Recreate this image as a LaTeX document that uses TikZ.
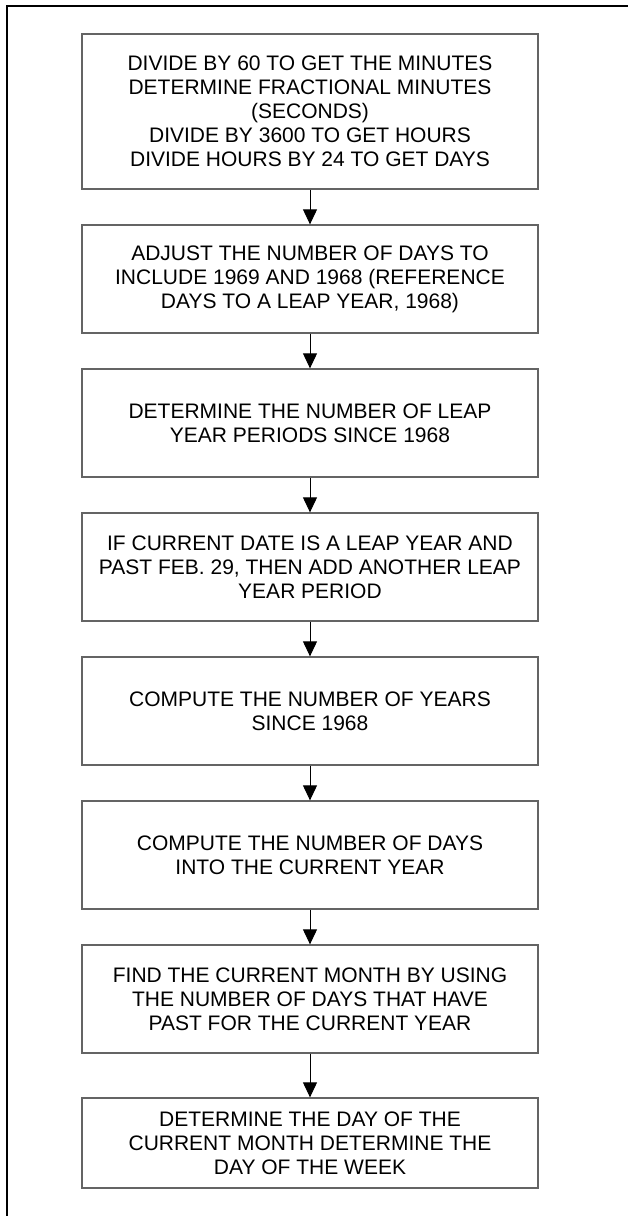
\documentclass[tikz,border=0pt]{standalone}
\usepackage{fontspec}
\setmainfont{Liberation Sans}
\usepackage{tikz}
\usetikzlibrary{arrows.meta}
\definecolor{boxgray}{RGB}{100,100,100}

\begin{document}
\begin{tikzpicture}[x=1pt, y=-1pt,
  blk/.style={draw=boxgray, line width=1.3pt, minimum width=456pt, minimum height=108pt, inner sep=0pt, align=center, font=\fontsize{21}{24}\selectfont},
  arrow/.style={-{Triangle[width=14pt,length=15pt]}, line width=1pt},
  frameline/.style={line width=2pt}
]
\useasboundingbox (0,0) rectangle (628,1216);
% partial page frame
\coordinate (ftop) at (628,6);
\coordinate (fcorner) at (7,6);
\coordinate (fbottom) at (7,1216);
\draw[frameline] (ftop) -- (fcorner) -- (fbottom);

\node[blk, minimum height=155pt] (divide) at (310,111.5) {DIVIDE BY 60 TO GET THE MINUTES\\DETERMINE FRACTIONAL MINUTES\\(SECONDS)\\DIVIDE BY 3600 TO GET HOURS\\DIVIDE HOURS BY 24 TO GET DAYS};
\node[blk] (adjust) at (310,279) {ADJUST THE NUMBER OF DAYS TO\\INCLUDE 1969 AND 1968 (REFERENCE\\DAYS TO A LEAP YEAR, 1968)};
\node[blk] (leap) at (310,423) {DETERMINE THE NUMBER OF LEAP\\YEAR PERIODS SINCE 1968};
\node[blk] (extra) at (310,567) {IF CURRENT DATE IS A LEAP YEAR AND\\PAST FEB. 29, THEN ADD ANOTHER LEAP\\YEAR PERIOD};
\node[blk] (years) at (310,711) {COMPUTE THE NUMBER OF YEARS\\SINCE 1968};
\node[blk] (days) at (310,855) {COMPUTE THE NUMBER OF DAYS\\INTO THE CURRENT YEAR};
\node[blk] (month) at (310,999) {FIND THE CURRENT MONTH BY USING\\THE NUMBER OF DAYS THAT HAVE\\PAST FOR THE CURRENT YEAR};
\node[blk, minimum height=90pt] (weekday) at (310,1143) {DETERMINE THE DAY OF THE\\CURRENT MONTH DETERMINE THE\\DAY OF THE WEEK};

\foreach \a/\b in {divide/adjust, adjust/leap, leap/extra, extra/years, years/days, days/month, month/weekday}
  \draw[arrow] (\a) -- (\b);
\end{tikzpicture}
\end{document}
